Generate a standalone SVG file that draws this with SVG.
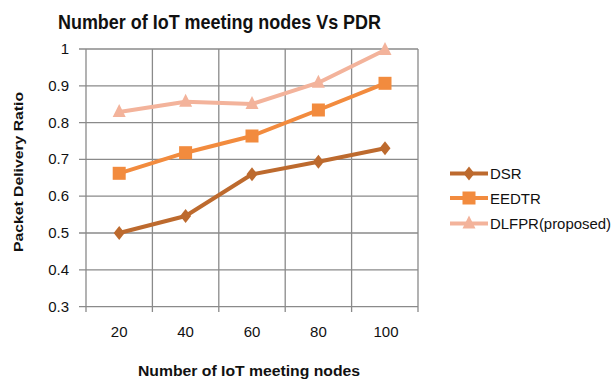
<svg xmlns="http://www.w3.org/2000/svg" width="615" height="383" viewBox="0 0 615 383">
<style>
.grid{stroke:#8a8a8a;stroke-width:1.3;fill:none}
.t{font-family:"Liberation Sans",Arial,sans-serif;fill:#111111}
.ylab{font-size:15px;text-anchor:end}
.xlab{font-size:15px;text-anchor:middle}
.ttl{font-weight:bold}
.leg{font-size:15px}
.dsr{stroke:#BD6A2E;stroke-width:4;fill:none;stroke-linejoin:round}
.eed{stroke:#F28B3E;stroke-width:4;fill:none;stroke-linejoin:round}
.dlf{stroke:#F3B39B;stroke-width:4;fill:none;stroke-linejoin:round}
</style>
<defs>
<polygon id="dia" points="0,-7 5.5,0 0,7 -5.5,0" fill="#BD6A2E"/>
<rect id="sq" x="-6.5" y="-6.5" width="13" height="13" fill="#F28B3E"/>
<polygon id="tri" points="0,-8 6.5,5 -6.5,5" fill="#F3B39B"/>
</defs>
<rect width="615" height="383" fill="#ffffff"/>
<text class="t ttl" x="58" y="28.5" font-size="21" textLength="323" lengthAdjust="spacingAndGlyphs">Number of IoT meeting nodes Vs PDR</text>
<g id="axes">
<path class="grid" d="M79,49H418M79,85.8H418M79,122.6H418M79,159.4H418M79,196.2H418M79,233H418M79,269.8H418M79,306.6H418"/>
<path class="grid" d="M86,49V312M152.4,49V312M218.8,49V312M285.2,49V312M351.6,49V312M418,49V312"/>
<g class="t ylab">
<text x="69" y="54">1</text>
<text x="69" y="90.8">0.9</text>
<text x="69" y="127.6">0.8</text>
<text x="69" y="164.4">0.7</text>
<text x="69" y="201.2">0.6</text>
<text x="69" y="238">0.5</text>
<text x="69" y="274.8">0.4</text>
<text x="69" y="311.6">0.3</text>
</g>
<g class="t xlab">
<text x="119.2" y="337">20</text>
<text x="185.6" y="337">40</text>
<text x="252" y="337">60</text>
<text x="318.4" y="337">80</text>
<text x="386" y="337">100</text>
</g>
<text class="t ttl" x="249" y="376" font-size="14" text-anchor="middle" textLength="222" lengthAdjust="spacingAndGlyphs">Number of IoT meeting nodes</text>
<text class="t ttl" transform="translate(23,172) rotate(-90)" font-size="13" text-anchor="middle" textLength="160" lengthAdjust="spacingAndGlyphs">Packet Delivery Ratio</text>
</g>
<g id="connectors">
<polyline class="dsr" points="119.2,233 185.6,216 252,174.3 318.4,161.7 385,148.3"/>
<polyline class="eed" points="119.2,173.3 185.6,152.7 252,136 318.4,110 385,83.3"/>
<polyline class="dlf" points="119.2,112 185.6,101.7 252,104 318.4,82.7 385,50"/>
</g>
<g id="DSR">
<use href="#dia" x="119.2" y="233"/><use href="#dia" x="185.6" y="216"/><use href="#dia" x="252" y="174.3"/><use href="#dia" x="318.4" y="161.7"/><use href="#dia" x="385" y="148.3"/>
</g>
<g id="EEDTR">
<use href="#sq" x="119.2" y="173.3"/><use href="#sq" x="185.6" y="152.7"/><use href="#sq" x="252" y="136"/><use href="#sq" x="318.4" y="110"/><use href="#sq" x="385" y="83.3"/>
</g>
<g id="DLFPR">
<use href="#tri" x="119.2" y="112"/><use href="#tri" x="185.6" y="101.7"/><use href="#tri" x="252" y="104"/><use href="#tri" x="318.4" y="82.7"/><use href="#tri" x="385" y="50"/>
</g>
<g id="legend">
<line class="dsr" x1="450" y1="173.5" x2="488" y2="173.5"/>
<use href="#dia" x="469" y="173.5"/>
<text class="t leg" x="490" y="179">DSR</text>
<line class="eed" x1="450" y1="198" x2="488" y2="198"/>
<use href="#sq" x="469" y="198"/>
<text class="t leg" x="490" y="203.5">EEDTR</text>
<line class="dlf" x1="450" y1="223.5" x2="488" y2="223.5"/>
<use href="#tri" x="469" y="223.5"/>
<text class="t leg" x="490" y="229" textLength="121" lengthAdjust="spacingAndGlyphs">DLFPR(proposed)</text>
</g>
</svg>
